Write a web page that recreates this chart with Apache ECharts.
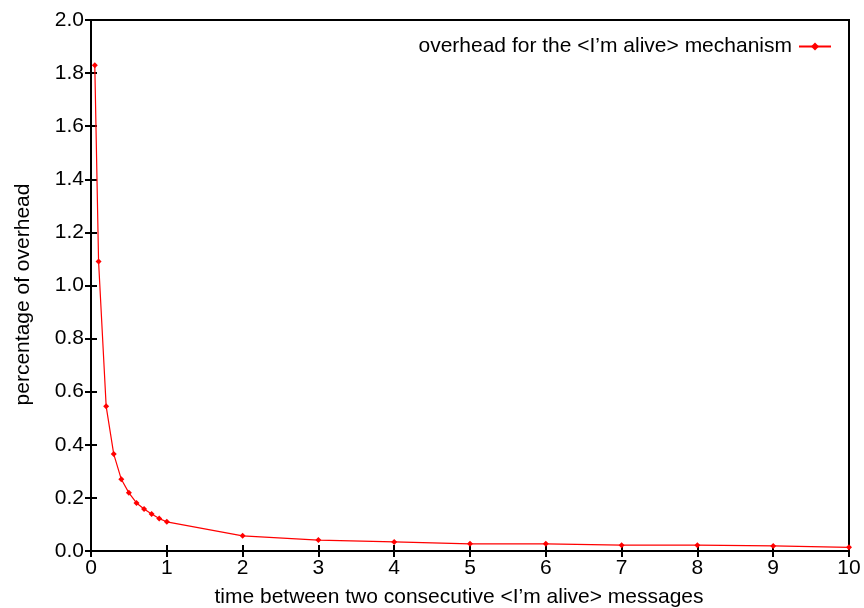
<!DOCTYPE html>
<html>
<head>
<meta charset="utf-8">
<script src="https://cdn.jsdelivr.net/npm/echarts@6/dist/echarts.min.js"></script>
<style>
  html, body { margin: 0; padding: 0; background: #fff; }
  #main { width: 864px; height: 608px; }
</style>
</head>
<body>
<div id="main"></div>
<script>
// time between two messages (x) and overhead in percent (y)
const times = [0.05, 0.1, 0.2, 0.3, 0.4, 0.5, 0.6, 0.7, 0.8, 0.9, 1, 2, 3, 4, 5, 6, 7, 8, 9, 10]
const overhead = [1.83, 1.09, 0.545, 0.365, 0.27, 0.219, 0.181, 0.158, 0.139, 0.122, 0.11,
  0.057, 0.041, 0.034, 0.027, 0.027, 0.022, 0.022, 0.019, 0.014]
const seriesName = 'overhead for the <I\u2019m alive> mechanism'

const chartDom = document.getElementById('main')
const myChart = echarts.init(chartDom)

const font = 'Liberation Sans, Arial, sans-serif'
const black = '#000'
const red = '#ff0000'
const fs = 21

const option = {
  animation: false,
  textStyle: { fontFamily: font },
  legend: {
    top: 31,
    right: 27,
    align: 'right',
    itemWidth: 32,
    itemHeight: 10,
    itemGap: 0,
    textStyle: { fontSize: fs, color: black, fontFamily: font, padding: [0, 2, 0, 0] },
    data: [{ name: seriesName }]
  },
  grid: {
    left: 91,
    right: 15,
    top: 20,
    bottom: 57,
    show: true,
    borderColor: black,
    borderWidth: 2,
    outerBoundsMode: 'none',
    containLabel: false
  },
  xAxis: [
    {
      type: 'value',
      min: 0,
      max: 10,
      interval: 1,
      name: 'time between two consecutive <I\u2019m alive> messages',
      nameLocation: 'middle',
      nameGap: 36,
      // gnuplot centres this label a little left of the plot centre
      nameTextStyle: { fontSize: fs, color: black, padding: [0, 22, 0, 0] },
      axisLine: { lineStyle: { color: black, width: 2 } },
      axisTick: { inside: true, length: 6, lineStyle: { color: black, width: 2 } },
      axisLabel: { fontSize: fs, color: black, margin: 7 },
      splitLine: { show: false }
    },
    {
      type: 'value',
      position: 'top',
      min: 0,
      max: 10,
      interval: 1,
      axisLine: { show: false },
      axisTick: { inside: true, length: 6, lineStyle: { color: black, width: 2 } },
      axisLabel: { show: false },
      splitLine: { show: false }
    }
  ],
  yAxis: [
    {
      type: 'value',
      min: 0,
      max: 2,
      interval: 0.2,
      name: 'percentage of overhead',
      nameLocation: 'middle',
      nameGap: 57,
      nameTextStyle: { fontSize: fs, color: black, padding: [0, 18, 0, 0] },
      axisLine: { show: true, lineStyle: { color: black, width: 2 } },
      axisTick: { show: true, inside: true, length: 6, lineStyle: { color: black, width: 2 } },
      axisLabel: { fontSize: fs, color: black, margin: 7, formatter: v => v.toFixed(1) },
      splitLine: { show: false }
    },
    {
      type: 'value',
      position: 'right',
      min: 0,
      max: 2,
      interval: 0.2,
      axisLine: { show: false },
      axisTick: { show: true, inside: true, length: 6, lineStyle: { color: black, width: 2 } },
      axisLabel: { show: false },
      splitLine: { show: false }
    }
  ],
  series: [
    {
      name: seriesName,
      type: 'line',
      data: times.map((t, i) => [t, overhead[i]]),
      color: red,
      lineStyle: { width: 1.2, color: red },
      symbol: 'diamond',
      symbolSize: 6,
      itemStyle: { color: red },
      clip: false
    }
  ]
}

option && myChart.setOption(option)
</script>
</body>
</html>
